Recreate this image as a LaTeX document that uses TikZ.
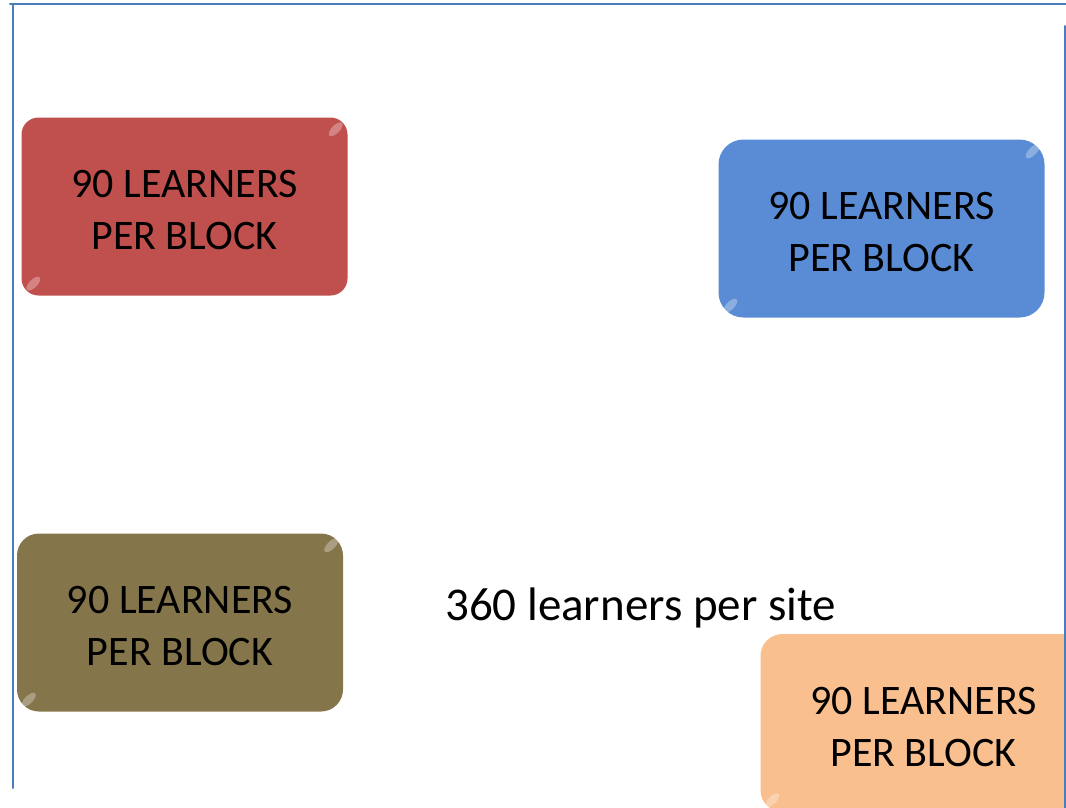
\documentclass[tikz,border=0pt]{standalone}
\usepackage{fontspec}
\setmainfont{Carlito}
\definecolor{blockred}{HTML}{C0504D}
\definecolor{blockblue}{HTML}{5A8CD5}
\definecolor{blockbrown}{HTML}{85754B}
\definecolor{blockorange}{HTML}{F9BF8F}
\definecolor{frameblue}{HTML}{4A7EBB}
\newcommand{\lift}{\rule{0pt}{35pt}}
\begin{document}
\begin{tikzpicture}[x=1pt, y=-1pt, line join=round, line cap=round,
	block/.style={rounded corners=20pt, minimum width=326pt, minimum height=178pt, align=center, inner sep=0pt, font=\fontsize{42}{52}\selectfont},
	shine/.style={white, opacity=0.3}]
				\useasboundingbox (0,0) rectangle (1066,808);
				\clip (0,0) rectangle (1066,808);
				\node[block, fill=blockred, rounded corners=17pt] (red) at (184.5,206.5) {\lift 90 LEARNERS\\PER BLOCK};
				\node[block, fill=blockblue, rounded corners=25pt] (blue) at (881.5,228.5) {\lift 90 LEARNERS\\PER BLOCK};
				\node[block, fill=blockbrown, rounded corners=22pt] (brown) at (180,622.5) {\lift 90 LEARNERS\\PER BLOCK};
				\node[block, fill=blockorange, rounded corners=22pt] (orange) at (923.5,723) {\lift 90 LEARNERS\\PER BLOCK};
				\foreach \b in {red,blue,brown,orange} {
					\coordinate (\b_1) at ([shift={(-12,12)}]\b.north east);
					\coordinate (\b_2) at ([shift={(12,-12)}]\b.south west);
					\fill[shine, rotate around={45:(\b_1)}] (\b_1) ellipse(9 and 4);
					\fill[shine, rotate around={45:(\b_2)}] (\b_2) ellipse(9 and 4);
				}
				\node[anchor=base west, inner sep=0pt, font=\fontsize{47}{56}\selectfont] (site) at (445,620) {360 learners per site};
				\draw[frameblue, line width=2pt] (10,4) -- (1066,4);
				\draw[frameblue, line width=2pt] (13,4) -- (13,788);
				\draw[frameblue, line width=2pt] (1064.5,26) -- (1064.5,808);
\end{tikzpicture}
\end{document}
